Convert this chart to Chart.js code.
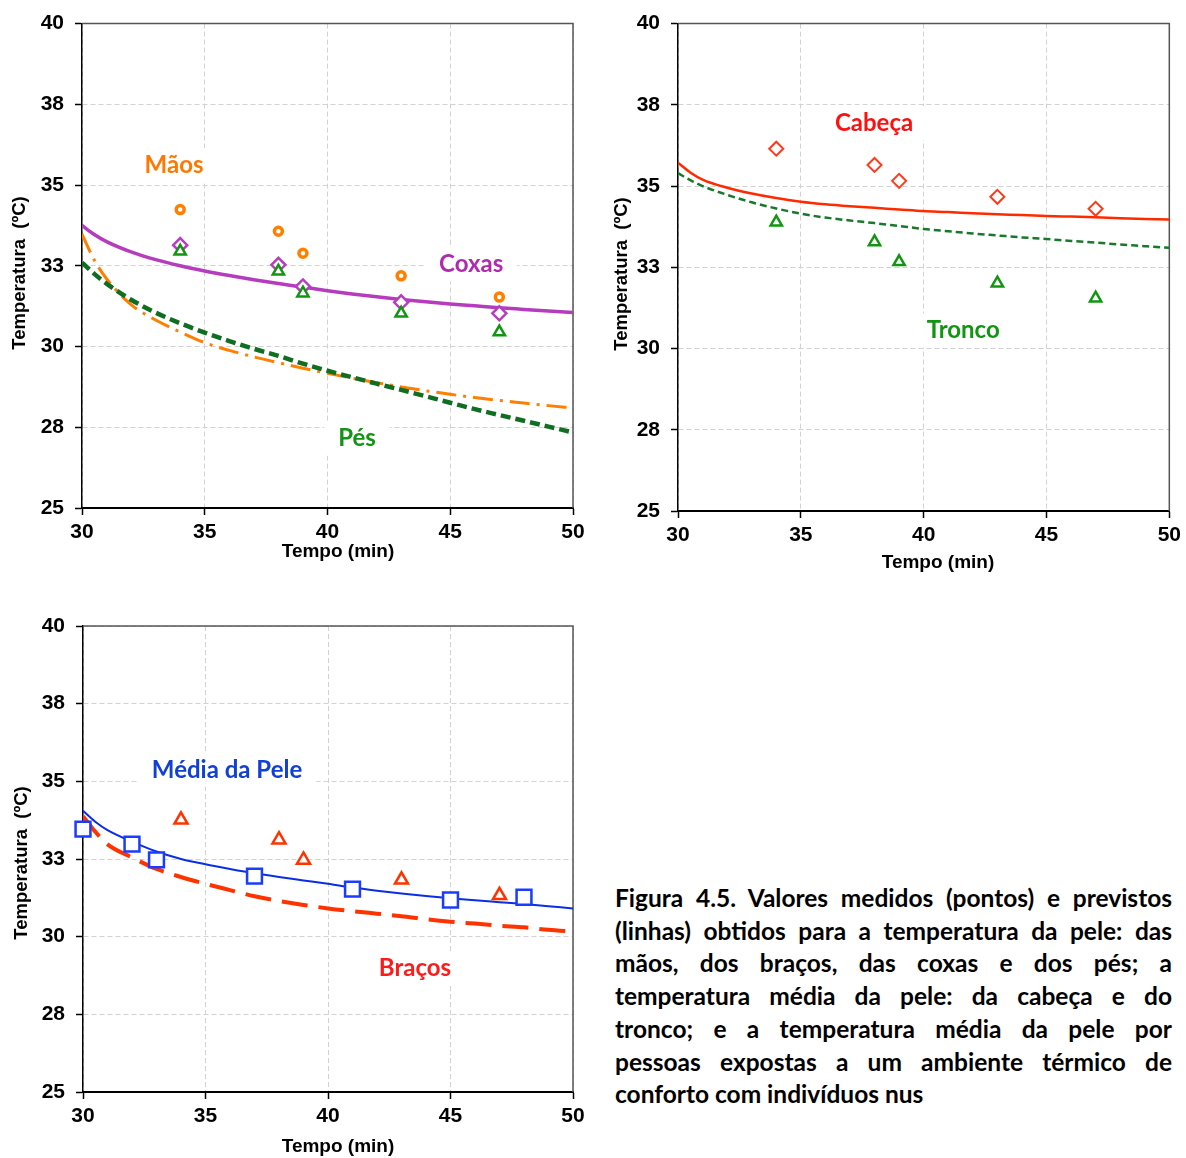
<!DOCTYPE html>
<html>
<head>
<meta charset="utf-8">
<script src="https://cdn.jsdelivr.net/npm/chart.js@4.4.1/dist/chart.umd.min.js"></script>
<style>
  html, body { margin: 0; padding: 0; background: #fff; }
  #page { position: relative; width: 1186px; height: 1158px; overflow: hidden; }
  canvas { position: absolute; }
  #caption {
    position: absolute; left: 615px; top: 882px; width: 557px;
    font-family: "Lato", "Open Sans", sans-serif; font-weight: 700;
    font-size: 24.5px; line-height: 32.7px; color: #000;
  }
  #caption div { text-align: justify; text-align-last: justify; white-space: nowrap; }
  #caption div.last { text-align-last: left; }
</style>
</head>
<body>
<div id="page">
  <canvas id="c1" width="590" height="570" style="left:0;top:0"></canvas>
  <canvas id="c2" width="590" height="575" style="left:596px;top:0"></canvas>
  <canvas id="c3" width="590" height="558" style="left:0;top:600px"></canvas>
  <div id="caption">
    <div>Figura 4.5. Valores medidos (pontos) e previstos</div>
    <div>(linhas) obtidos para a temperatura da pele: das</div>
    <div>mãos, dos braços, das coxas e dos pés; a</div>
    <div>temperatura média da pele: da cabeça e do</div>
    <div>tronco; e a temperatura média da pele por</div>
    <div>pessoas expostas a um ambiente térmico de</div>
    <div class="last">conforto com indivíduos nus</div>
  </div>
</div>
<script>
// axis ticks (temperature axis steps of 2.5, shown rounded as in the original)
const X_TICKS = [30, 35, 40, 45, 50];
const Y_TICKS = [25, 27.5, 30, 32.5, 35, 37.5, 40];
const Y_TICK_LABELS = ["25", "28", "30", "33", "35", "38", "40"];

// predicted curves (lines), time in min
const LINE_T = [30, 30.5, 31, 32, 33, 34, 35, 36, 37, 38, 39, 40, 41, 42, 43, 44, 45, 46, 47, 48, 49, 50];
const MAOS_LINE = [33.48, 32.68, 32.1, 31.3, 30.82, 30.45, 30.12, 29.88, 29.68, 29.5, 29.33, 29.17, 29.02, 28.88, 28.75, 28.63, 28.52, 28.42, 28.33, 28.25, 28.17, 28.1];
const COXAS_LINE = [33.75, 33.47, 33.25, 32.93, 32.69, 32.5, 32.34, 32.2, 32.07, 31.95, 31.84, 31.73, 31.63, 31.54, 31.46, 31.39, 31.32, 31.26, 31.2, 31.15, 31.1, 31.05];
const PES_LINE = [32.6, 32.25, 31.95, 31.45, 31.05, 30.72, 30.43, 30.17, 29.93, 29.71, 29.47, 29.25, 29.05, 28.85, 28.66, 28.46, 28.26, 28.06, 27.88, 27.7, 27.52, 27.34];
const CABECA_LINE = [35.72, 35.42, 35.2, 34.95, 34.77, 34.63, 34.52, 34.44, 34.38, 34.33, 34.28, 34.23, 34.2, 34.16, 34.13, 34.11, 34.08, 34.06, 34.04, 34.01, 33.99, 33.97];
const TRONCO_LINE = [35.4, 35.18, 35.0, 34.73, 34.5, 34.31, 34.15, 34.03, 33.94, 33.86, 33.77, 33.68, 33.61, 33.54, 33.48, 33.42, 33.37, 33.31, 33.26, 33.2, 33.15, 33.1];
const MEDIA_LINE = [34.05, 33.7, 33.43, 33.06, 32.74, 32.5, 32.33, 32.18, 32.04, 31.92, 31.81, 31.7, 31.58, 31.48, 31.39, 31.31, 31.24, 31.17, 31.11, 31.05, 30.98, 30.91];
const BRACOS_LINE = [33.88, 33.38, 32.97, 32.55, 32.18, 31.92, 31.7, 31.5, 31.3, 31.15, 31.02, 30.91, 30.82, 30.74, 30.66, 30.56, 30.48, 30.42, 30.35, 30.3, 30.22, 30.16];

// measured values (points)
const PT_T = [34, 38, 39, 43, 47];
const MAOS_PTS = [34.24, 33.57, 32.89, 32.19, 31.53];
const COXAS_PTS = [33.14, 32.53, 31.86, 31.37, 31.03];
const PES_PTS = [32.95, 32.33, 31.65, 31.03, 30.45];
const CABECA_PTS = [36.15, 35.65, 35.16, 34.67, 34.3];
const TRONCO_PTS = [33.89, 33.28, 32.67, 32.01, 31.55];
const BRACOS_PTS = [33.76, 33.12, 32.47, 31.83, 31.33];
const MEDIA_T = [30, 32, 33, 37, 41, 45, 48];
const MEDIA_PTS = [33.46, 32.98, 32.47, 31.95, 31.53, 31.18, 31.27];

const pairs = (xs, ys) => xs.map((x, i) => ({ x, y: ys[i] }));

const TICK_FONT = { family: "'Liberation Sans', Arial, sans-serif", size: 21, weight: "bold" };
const LABEL_FONT = "bold 24px Lato, 'Open Sans', sans-serif";
const TITLE_X_FONT = "bold 19px 'Liberation Sans', Arial, sans-serif";
const TITLE_Y_FONT = "bold 18.5px 'Liberation Sans', Arial, sans-serif";

const lineSet = (data, color, width, dash) => ({
    data,
    showLine: true,
    borderColor: color,
    borderWidth: width,
    borderDash: dash || [],
    pointRadius: 0,
    cubicInterpolationMode: "monotone",
    fill: false,
});

const pointSet = (data, color, style, radius, width) => ({
    data,
    showLine: false,
    clip: false,
    pointStyle: style,
    pointRadius: radius,
    pointBorderColor: color,
    pointBorderWidth: width,
    pointBackgroundColor: "#fff",
});

// frame, series labels and axis titles
const figText = {
    id: "figText",
    beforeDatasetsDraw(chart, args, opts) {
        const { ctx, chartArea: a, scales } = chart;
        ctx.save();
        ctx.strokeStyle = "#555";
        ctx.lineWidth = 1.5;
        ctx.beginPath();
        ctx.moveTo(a.left, a.top);
        ctx.lineTo(a.right, a.top);
        ctx.lineTo(a.right, a.bottom);
        ctx.stroke();

        ctx.font = LABEL_FONT;
        ctx.textAlign = "center";
        ctx.textBaseline = "middle";
        for (const l of opts.labels || []) {
            const px = scales.x.getPixelForValue(l.at[0]);
            const py = scales.y.getPixelForValue(l.at[1]);
            const w = ctx.measureText(l.text).width;
            ctx.fillStyle = "#fff";
            ctx.fillRect(px - w / 2 - 14, py - 17, w + 28, 34);
            ctx.fillStyle = l.color;
            ctx.fillText(l.text, px, py);
        }
        ctx.restore();
    },
    afterDraw(chart, args, opts) {
        const { ctx } = chart;
        ctx.save();
        ctx.fillStyle = "#000";
        ctx.textAlign = "center";
        ctx.textBaseline = "middle";
        ctx.font = TITLE_X_FONT;
        ctx.fillText("Tempo (min)", opts.xTitle[0], opts.xTitle[1]);
        ctx.translate(opts.yTitle[0], opts.yTitle[1]);
        ctx.rotate(-Math.PI / 2);
        ctx.font = TITLE_Y_FONT;
        ctx.fillText("Temperatura  (ºC)", 0, 0);
        ctx.restore();
    },
};

function makeChart(id, datasets, geo, labels) {
    return new Chart(document.getElementById(id), {
        type: "scatter",
        data: { datasets },
        options: {
            responsive: false,
            animation: false,
            layout: { padding: { top: geo.top, right: geo.right, left: 0, bottom: 0 } },
            plugins: {
                legend: { display: false },
                tooltip: { enabled: false },
                figText: { labels, xTitle: geo.xTitle, yTitle: geo.yTitle },
            },
            scales: {
                x: {
                    type: "linear",
                    min: 30,
                    max: 50,
                    afterFit: (s) => { s.height = geo.xh; },
                    afterBuildTicks: (s) => { s.ticks = X_TICKS.map((v) => ({ value: v })); },
                    ticks: { font: TICK_FONT, color: "#000", padding: 5, maxRotation: 0 },
                    grid: { color: "#d2d2d2", lineWidth: 1, tickLength: 7, tickColor: "#000", tickWidth: 1.5, tickBorderDash: [] },
                    border: { display: true, color: "#000", width: 2, dash: [5, 3] },
                },
                y: {
                    type: "linear",
                    min: 25,
                    max: 40,
                    afterFit: (s) => { s.width = geo.yw; },
                    afterBuildTicks: (s) => { s.ticks = Y_TICKS.map((v) => ({ value: v })); },
                    ticks: {
                        font: TICK_FONT,
                        color: "#000",
                        padding: 11,
                        callback: (v) => Y_TICK_LABELS[Y_TICKS.indexOf(v)],
                    },
                    grid: { color: "#d2d2d2", lineWidth: 1, tickLength: 7, tickColor: "#000", tickWidth: 1.5, tickBorderDash: [] },
                    border: { display: true, color: "#000", width: 1.5, dash: [5, 3] },
                },
            },
        },
        plugins: [figText],
    });
}

// top left: mãos, coxas, pés
makeChart("c1", [
    pointSet(pairs(PT_T, PES_PTS), "#129612", "triangle", 6.5, 2.5),
    pointSet(pairs(PT_T, COXAS_PTS), "#b63cc0", "rectRot", 7, 2.5),
    pointSet(pairs(PT_T, MAOS_PTS), "#ff8000", "circle", 4, 3.5),
    lineSet(pairs(LINE_T, COXAS_LINE), "#b63cbe", 3.5),
    lineSet(pairs(LINE_T, PES_LINE), "#0f6e21", 4.5, [10, 5]),
    lineSet(pairs(LINE_T, MAOS_LINE), "#ff8000", 3, [20, 7, 3, 7]),
], { top: 20, right: 17, yw: 82, xh: 62, xTitle: [338, 552], yTitle: [20, 273] }, [
    { text: "Mãos", at: [33.75, 35.62], color: "#ff7800" },
    { text: "Coxas", at: [45.85, 32.54], color: "#b02aae" },
    { text: "Pés", at: [41.2, 27.15], color: "#149414" },
]);

// top right: cabeça, tronco
makeChart("c2", [
    pointSet(pairs(PT_T, TRONCO_PTS), "#129612", "triangle", 6.5, 2.5),
    pointSet(pairs(PT_T, CABECA_PTS), "#ff3a1a", "rectRot", 7, 2),
    lineSet(pairs(LINE_T, CABECA_LINE), "#ff2a00", 2.5),
    lineSet(pairs(LINE_T, TRONCO_LINE), "#177a2a", 2.5, [7, 4]),
], { top: 20, right: 12, yw: 82, xh: 64, xTitle: [342, 563], yTitle: [26, 274] }, [
    { text: "Cabeça", at: [37.98, 36.94], color: "#ff1010" },
    { text: "Tronco", at: [41.61, 30.56], color: "#129612" },
]);

// bottom left: média da pele, braços
makeChart("c3", [
    pointSet(pairs(MEDIA_T, MEDIA_PTS), "#1a3cff", "rect", 10.5, 2.5),
    pointSet(pairs(PT_T, BRACOS_PTS), "#ff3300", "triangle", 7.5, 2.5),
    lineSet(pairs(LINE_T, MEDIA_LINE), "#0a2ee6", 2),
    lineSet(pairs(LINE_T, BRACOS_LINE), "#ff3300", 4, [26, 11]),
], { top: 26, right: 17, yw: 83, xh: 66, xTitle: [338, 547], yTitle: [22, 263] }, [
    { text: "Média da Pele", at: [35.88, 35.37], color: "#1040d4" },
    { text: "Braços", at: [43.55, 28.99], color: "#ff1a1a" },
]);
</script>
</body>
</html>
